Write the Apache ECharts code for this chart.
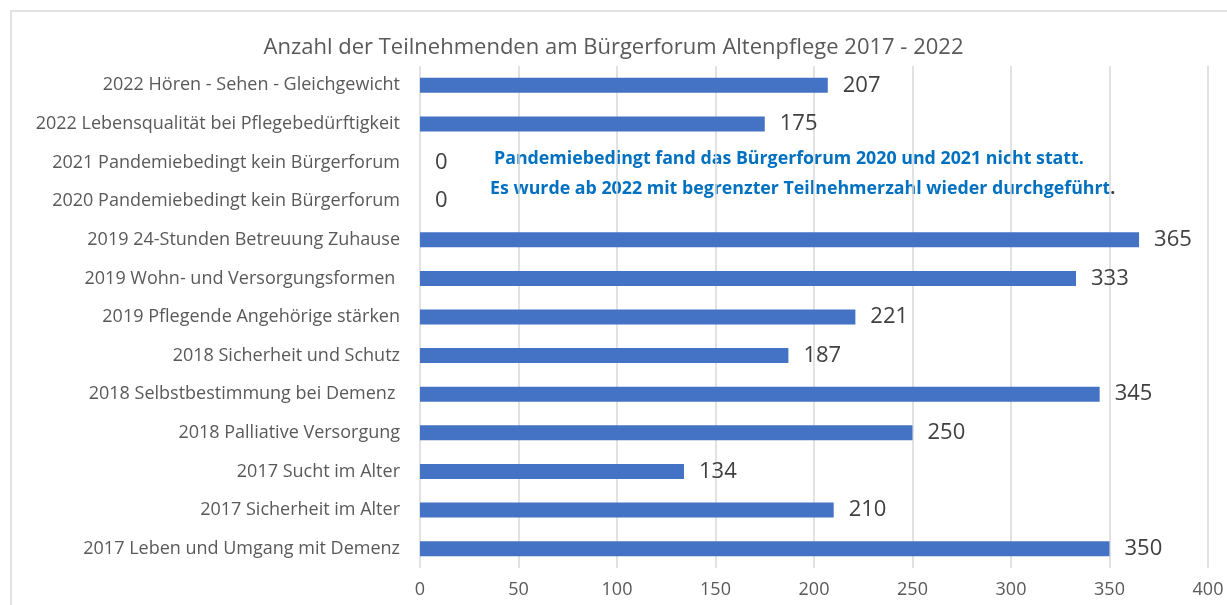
<!DOCTYPE html>
<html lang="de">
<head>
    <meta charset="UTF-8">
    <title>Bürgerforum Altenpflege</title>
    <script src="https://cdn.jsdelivr.net/npm/echarts@6/dist/echarts.min.js"></script>
    <style>
        html, body { margin: 0; padding: 0; background: #fff; }
        #chart { width: 1227px; height: 605px; }
    </style>
</head>
<body>
<div id="chart"></div>
<script>
    // Veranstaltungen von oben nach unten
    var themen = [
        '2022 Hören - Sehen - Gleichgewicht',
        '2022 Lebensqualität bei Pflegebedürftigkeit',
        '2021 Pandemiebedingt kein Bürgerforum',
        '2020 Pandemiebedingt kein Bürgerforum',
        '2019 24-Stunden Betreuung Zuhause',
        '2019 Wohn- und Versorgungsformen ',
        '2019 Pflegende Angehörige stärken',
        '2018 Sicherheit und Schutz',
        '2018 Selbstbestimmung bei Demenz ',
        '2018 Palliative Versorgung',
        '2017 Sucht im Alter',
        '2017 Sicherheit im Alter',
        '2017 Leben und Umgang mit Demenz'
    ];
    var teilnehmende = [207, 175, 0, 0, 365, 333, 221, 187, 345, 250, 134, 210, 350];
    var hinweis = [
        'Pandemiebedingt fand das Bürgerforum 2020 und 2021 nicht statt.',
        'Es wurde ab 2022 mit begrenzter Teilnehmerzahl wieder durchgeführt'
    ];

    var FONT = '"Open Sans", sans-serif';
    var myChart = echarts.init(document.getElementById('chart'));

    var option = {
        animation: false,
        title: {
            text: 'Anzahl der Teilnehmenden am Bürgerforum Altenpflege 2017 - 2022',
            left: 'center',
            top: 32,
            textStyle: { fontFamily: FONT, fontSize: 22, fontWeight: 'normal', color: '#595959' }
        },
        grid: { left: 420, right: 19, top: 66, bottom: 37 },
        xAxis: {
            type: 'value',
            min: 0,
            max: 400,
            interval: 50,
            axisLine: { show: false },
            axisTick: { show: false },
            splitLine: { lineStyle: { color: '#d9d9d9', width: 1.5 } },
            axisLabel: { fontFamily: FONT, fontSize: 18, color: '#595959', margin: 13 }
        },
        yAxis: {
            type: 'category',
            inverse: true,
            data: themen,
            axisLine: { show: false },
            axisTick: { show: false },
            axisLabel: { fontFamily: FONT, fontSize: 18, color: '#595959', margin: 20 }
        },
        series: [{
            type: 'bar',
            data: teilnehmende,
            barWidth: 15,
            itemStyle: { color: '#4472c4' },
            label: {
                show: true,
                position: 'right',
                distance: 15,
                fontFamily: FONT,
                fontSize: 22,
                color: '#404040'
            }
        }],
        graphic: [
            {
                type: 'rect',
                shape: { x: 11, y: 11, width: 1230, height: 620 },
                style: { fill: 'none', stroke: '#d9d9d9', lineWidth: 1.5 },
                silent: true
            },
            {
                type: 'text',
                left: 494,
                top: 150,
                style: {
                    text: hinweis[0],
                    fontFamily: FONT, fontSize: 17.8, fontWeight: 'bold', fill: '#0070c0'
                }
            },
            {
                type: 'text',
                left: 490,
                top: 180,
                style: {
                    text: '{b|' + hinweis[1] + '}{k|.}',
                    rich: {
                        b: { fontFamily: FONT, fontSize: 17.8, fontWeight: 'bold', fill: '#0070c0' },
                        k: { fontFamily: FONT, fontSize: 17.8, fontWeight: 'bold', fill: '#404040' }
                    }
                }
            }
        ]
    };

    myChart.setOption(option);
</script>
</body>
</html>
